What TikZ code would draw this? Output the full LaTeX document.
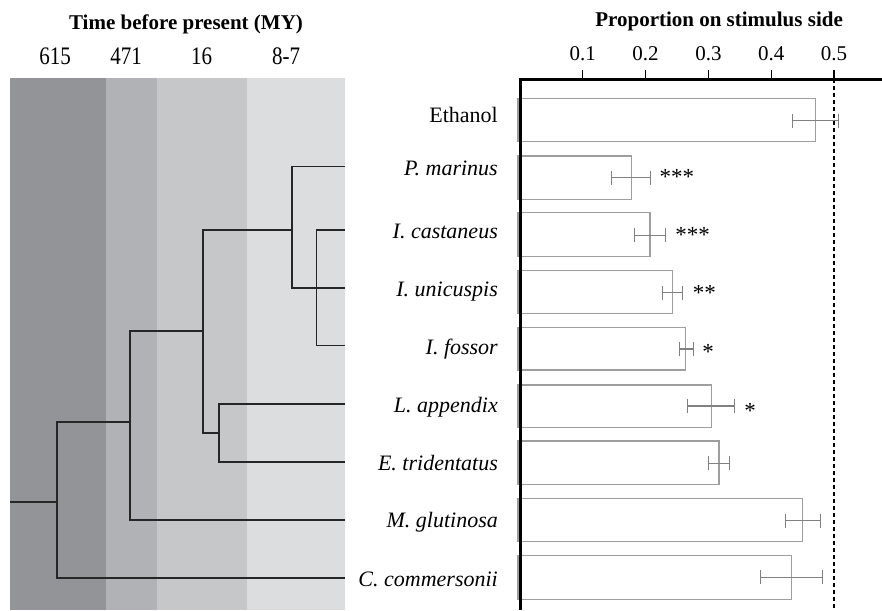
\documentclass[tikz,border=0pt]{standalone}
\usepackage{fontspec}
\setmainfont{Liberation Serif}
\usetikzlibrary{arrows.meta}

\definecolor{bandA}{HTML}{939498}
\definecolor{bandB}{HTML}{B1B2B6}
\definecolor{bandC}{HTML}{C6C7C9}
\definecolor{bandD}{HTML}{DCDDDF}

\begin{document}
\begin{tikzpicture}[x=1pt,y=-1pt,
    branch/.style={draw=black!85,line width=1.2pt},
    barbox/.style={draw=black!38,line width=1.3pt,fill=white},
    errbar/.style={draw=black!50,line width=1.1pt,{Bar[width=14pt]}-{Bar[width=14pt]}},
    taxon/.style={anchor=east,inner sep=0pt,text height=14.5pt,text depth=0pt,font=\fontsize{22}{26}\selectfont\itshape},
    title/.style={anchor=base,inner sep=0pt,font=\fontsize{21}{25}\selectfont\bfseries},
    num/.style={anchor=base,inner sep=0pt,font=\fontsize{21}{25}\selectfont},
    stars/.style={anchor=base west,inner sep=0pt,font=\fontsize{23}{26}\selectfont}]
            \useasboundingbox (0,0) rectangle (882,610);

            \begin{scope}
                \fill[bandA] (10,78) rectangle (106,610);
                \fill[bandB] (106,78) rectangle (157,610);
                \fill[bandC] (157,78) rectangle (247,610);
                \fill[bandD] (247,78) rectangle (345,610);
                \node[title] (ttime) at (186,30) {Time before present (MY)};
                \node[num] (m615) at (55,64) {\scalebox{1}[1.2]{615}};
                \node[num] (m471) at (126,64) {\scalebox{1}[1.2]{471}};
                \node[num] (m16) at (201.5,64) {\scalebox{1}[1.2]{16}};
                \node[num] (m87) at (286,64) {\scalebox{1}[1.2]{8-7}};

                \coordinate (tPm) at (345,166.7);
                \coordinate (tIc) at (345,230);
                \coordinate (tIu) at (345,288);
                \coordinate (tIf) at (345,345.7);
                \coordinate (tLa) at (345,404);
                \coordinate (tEt) at (345,462);
                \coordinate (tMg) at (345,520);
                \coordinate (tCc) at (345,578);
                \coordinate (nB) at (316.3,288);
                \coordinate (nA) at (292,230);
                \coordinate (nD) at (219,433);
                \coordinate (nC) at (203,331);
                \coordinate (nE) at (130,422);
                \coordinate (nF) at (57,502);
                \coordinate (root) at (10,502);

                \draw[branch] (tIc) -| (nB) |- (tIf);
                \draw[branch] (nB) -- (tIu);
                \draw[branch] (tPm) -| (nA) |- (nB);
                \draw[branch] (tLa) -| (nD) |- (tEt);
                \draw[branch] (nA) -| (nC) |- (nD);
                \draw[branch] (nC) -| (nE) |- (tMg);
                \draw[branch] (nE) -| (nF) |- (tCc);
                \draw[branch] (root) -- (nF);
            \end{scope}

            \node[taxon,font=\fontsize{22}{26}\selectfont] (eth) at (498,115) {Ethanol};
            \node[taxon] (pmar) at (498,168) {P. marinus};
            \node[taxon] (icas) at (498,231.5) {I. castaneus};
            \node[taxon] (iuni) at (498,289.5) {I. unicuspis};
            \node[taxon] (ifos) at (498,347) {I. fossor};
            \node[taxon] (lapp) at (498,405.5) {L. appendix};
            \node[taxon] (etri) at (498,463) {E. tridentatus};
            \node[taxon] (mglu) at (498,520) {M. glutinosa};
            \node[taxon] (ccom) at (498,579) {C. commersonii};

            \begin{scope}[shift={(520,0)},x=628pt]
                \node[title] (tprop) at (0.317,27) {Proportion on stimulus side};

                \draw[barbox] (-0.003,98.8) rectangle (0.471,141.2);
                \draw[errbar] (0.433,120.7) -- (0.508,120.7);

                \draw[barbox] (-0.003,156) rectangle (0.177,199.3);
                \draw[errbar] (0.145,177.7) -- (0.208,177.7);
                \node[stars] (s2) at (0.222,184) {***};

                \draw[barbox] (-0.003,212.7) rectangle (0.207,256.7);
                \draw[errbar] (0.182,235.3) -- (0.232,235.3);
                \node[stars] (s3) at (0.247,242.5) {***};

                \draw[barbox] (-0.003,270.3) rectangle (0.243,313.3);
                \draw[errbar] (0.226,292.7) -- (0.259,292.7);
                \node[stars] (s4) at (0.275,300) {**};

                \draw[barbox] (-0.003,327.7) rectangle (0.264,370);
                \draw[errbar] (0.253,349) -- (0.277,349);
                \node[stars] (s5) at (0.290,359) {*};

                \draw[barbox] (-0.003,385) rectangle (0.305,427.3);
                \draw[errbar] (0.266,406) -- (0.343,406);
                \node[stars] (s6) at (0.357,418) {*};

                \draw[barbox] (-0.003,441) rectangle (0.317,484.3);
                \draw[errbar] (0.299,463.3) -- (0.334,463.3);

                \draw[barbox] (-0.003,498.3) rectangle (0.450,541.7);
                \draw[errbar] (0.422,520.7) -- (0.480,520.7);

                \draw[barbox] (-0.003,555.7) rectangle (0.432,599.3);
                \draw[errbar] (0.382,577.3) -- (0.482,577.3);

                \draw[dashed,line width=1.5pt,dash pattern=on 4pt off 3pt] (0.5,79) -- (0.5,610);

                \foreach \v in {0.1,0.2,0.3,0.4,0.5} {
                    \draw[line width=1.2pt] (\v,70) -- (\v,79);
                    \node[num] (tick\v) at (\v,60) {\v};
                }
                \draw[line width=3.4pt,line join=miter] (0.001,610) -- (0.001,79.3) -- (0.577,79.3);
            \end{scope}

        \end{tikzpicture}
\end{document}
